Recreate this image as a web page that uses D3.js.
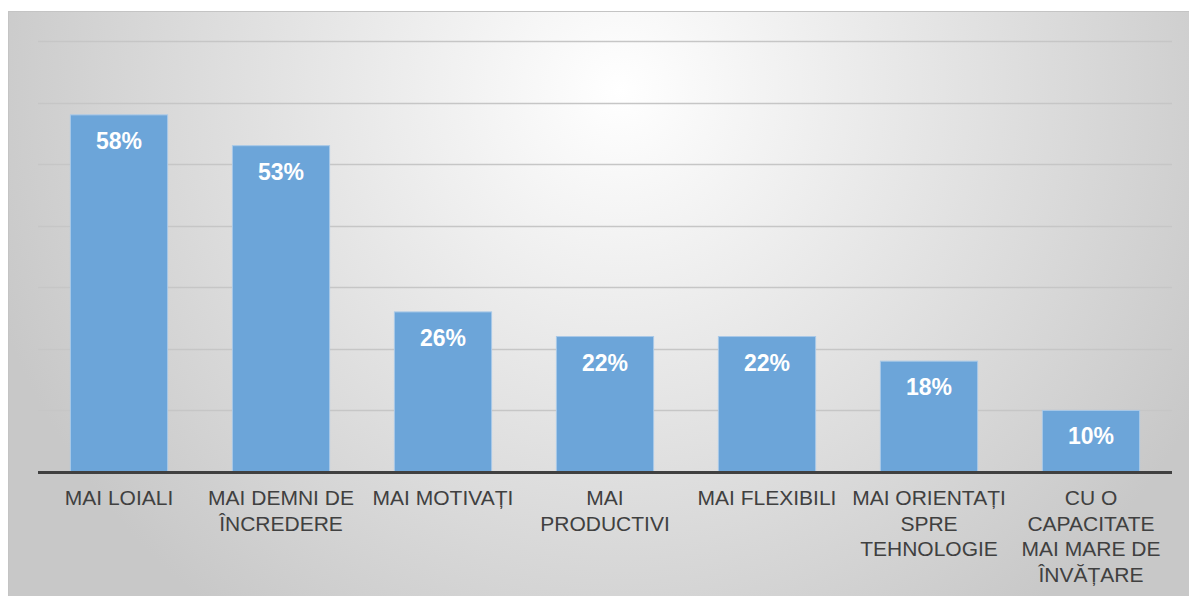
<!DOCTYPE html>
<html>
<head>
<meta charset="utf-8">
<script src="https://cdn.jsdelivr.net/npm/d3@7"></script>
<style>
  html, body { margin: 0; padding: 0; background: #fff; }
  svg { display: block; font-family: "Liberation Sans", Arial, sans-serif; }
</style>
</head>
<body>
<div id="chart"></div>
<script>
// categories (one entry per line of the axis label) and values in percent
const categories = [
    ['MAI LOIALI'],
    ['MAI DEMNI DE', 'ÎNCREDERE'],
    ['MAI MOTIVAȚI'],
    ['MAI', 'PRODUCTIVI'],
    ['MAI FLEXIBILI'],
    ['MAI ORIENTAȚI', 'SPRE', 'TEHNOLOGIE'],
    ['CU O', 'CAPACITATE', 'MAI MARE DE', 'ÎNVĂȚARE']
];
const values = [58, 53, 26, 22, 22, 18, 10];
const gridTicks = [10, 20, 30, 40, 50, 60, 70];

const width = 1189, height = 596;
const margin = { top: 41, right: 17, bottom: 124, left: 38 };

const svg = d3.select('#chart').append('svg')
    .attr('width', width)
    .attr('height', height);

// ─── Background panel with radial gradient ───
const defs = svg.append('defs');
const grad = defs.append('radialGradient')
    .attr('id', 'bg')
    .attr('gradientUnits', 'userSpaceOnUse')
    .attr('cx', 620).attr('cy', 90).attr('r', 660);
grad.append('stop').attr('offset', '0%').attr('stop-color', '#ffffff');
grad.append('stop').attr('offset', '100%').attr('stop-color', '#c8c8c8');

svg.append('rect')
    .attr('x', 8).attr('y', 11)
    .attr('width', width - 8).attr('height', height - 11)
    .attr('fill', 'url(#bg)');
svg.append('line')
    .attr('x1', 8).attr('x2', width).attr('y1', 11.5).attr('y2', 11.5)
    .attr('stroke', '#c4c4c4').attr('stroke-width', 1);
svg.append('line')
    .attr('x1', 8.5).attr('x2', 8.5).attr('y1', 11).attr('y2', height)
    .attr('stroke', '#c4c4c4').attr('stroke-width', 1);

// ─── Scales ───
const x = d3.scaleBand()
    .domain(d3.range(values.length))
    .range([margin.left, width - margin.right])
    .paddingInner(0.4)
    .paddingOuter(0.2);
const y = d3.scaleLinear()
    .domain([0, 70])
    .range([height - margin.bottom, margin.top]);

// ─── Gridlines ───
svg.append('g')
    .selectAll('line')
    .data(gridTicks)
    .join('line')
    .attr('x1', margin.left).attr('x2', width - margin.right)
    .attr('y1', d => Math.round(y(d)) + 0.5)
    .attr('y2', d => Math.round(y(d)) + 0.5)
    .attr('stroke', '#c6c6c6')
    .attr('stroke-width', 1.5);

// ─── Bars ───
svg.append('g')
    .selectAll('rect')
    .data(values)
    .join('rect')
    .attr('x', (d, i) => x(i))
    .attr('y', d => y(d))
    .attr('width', x.bandwidth())
    .attr('height', d => y(0) - y(d))
    .attr('fill', '#6ca5d9')
    .attr('stroke', '#a9c9e8')
    .attr('stroke-width', 1);

// ─── Value labels ───
svg.append('g')
    .selectAll('text')
    .data(values)
    .join('text')
    .attr('x', (d, i) => x(i) + x.bandwidth() / 2)
    .attr('y', d => y(d) + 34)
    .attr('text-anchor', 'middle')
    .attr('fill', '#ffffff')
    .style('font-size', '23px')
    .style('font-weight', 'bold')
    .text(d => d + '%');

// ─── Baseline ───
svg.append('line')
    .attr('x1', margin.left).attr('x2', width - margin.right)
    .attr('y1', y(0) + 0.5).attr('y2', y(0) + 0.5)
    .attr('stroke', '#404040')
    .attr('stroke-width', 3);

// ─── Category labels ───
const catText = svg.append('g')
    .selectAll('text')
    .data(categories)
    .join('text')
    .attr('text-anchor', 'middle')
    .attr('fill', '#404040')
    .style('font-size', '21px');
catText.selectAll('tspan')
    .data((d, i) => d.map((line, j) => ({ line, j, i })))
    .join('tspan')
    .attr('x', d => x(d.i) + x.bandwidth() / 2)
    .attr('y', d => y(0) + 33 + d.j * 25.6)
    .text(d => d.line);
</script>
</body>
</html>
